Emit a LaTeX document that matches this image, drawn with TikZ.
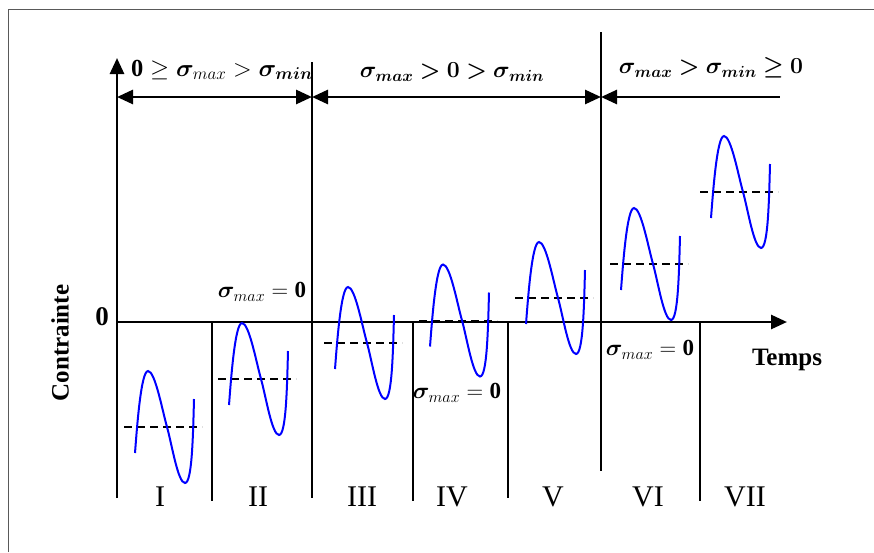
\RequirePackage{fix-cm}
\documentclass[tikz,border=0pt]{standalone}
\usepackage{amsmath}
\usepackage{bm}
\usepackage{fontspec}
\setmainfont{Liberation Serif}
\usetikzlibrary{arrows.meta}
\newcommand\wavepic[2]{%
  \begin{scope}[shift={(#1,#2)}]
    \draw[meanline] (0,0) -- (78,0);
    \draw[wavecurve] (11,26) .. controls (13,0) and (17,-56) .. (24,-56)
      .. controls (31,-56) and (38,-18) .. (43,0)
      .. controls (48,18) and (54,56) .. (61,56)
      .. controls (68,56) and (69,10) .. (70,-28);
  \end{scope}}
\begin{document}
\begin{tikzpicture}[x=1pt,y=-1pt,
  frame/.style={draw=black!65,line width=1pt},
  axis/.style={line width=2.7pt},
  sep/.style={line width=2pt},
  tipend/.style={-{Triangle[length=16pt,width=14pt]}},
  tipboth/.style={{Triangle[length=16pt,width=14pt]}-{Triangle[length=16pt,width=14pt]}},
  tipstart/.style={{Triangle[length=16pt,width=14pt]}-},
  wavecurve/.style={blue,line width=2pt},
  meanline/.style={dash pattern=on 8pt off 5pt,line width=1.8pt},
  lbl/.style={font=\fontsize{23}{27}\selectfont\bfseries,inner sep=0pt},
  txt/.style={font=\fontsize{25}{29}\selectfont\bfseries,inner sep=0pt},
  roman/.style={font=\fontsize{30}{33}\selectfont,inner sep=0pt}]
\useasboundingbox (0,0) rectangle (874,552);
% frame
\draw[frame] (8,552) -- (8,9) -- (874,9);
% axes
\coordinate (O) at (117,322);
\coordinate (ytop) at (117,58);
\coordinate (ybot) at (117,498);
\coordinate (xend) at (787,322);
\draw[axis,tipend] (ybot) -- (ytop);
\draw[axis,tipend] (O) -- (xend);
% dimension line
\coordinate (d0) at (117,97);
\coordinate (d1) at (312,97);
\coordinate (d2) at (601,97);
\coordinate (d3) at (780,97);
\draw[axis,tipboth] (d0) -- (d1);
\draw[axis,tipboth] (d1) -- (d2);
\draw[axis,tipstart] (d2) -- (d3);
% separators
\coordinate (s1a) at (312,62);  \coordinate (s1b) at (312,498);
\coordinate (s2a) at (601,32);  \coordinate (s2b) at (601,471);
\coordinate (s3a) at (212,322); \coordinate (s3b) at (212,501);
\coordinate (s4a) at (413,322); \coordinate (s4b) at (413,501);
\coordinate (s5a) at (508,322); \coordinate (s5b) at (508,498);
\coordinate (s6a) at (700,322); \coordinate (s6b) at (700,501);
\draw[sep] (s1a) -- (s1b);
\draw[sep] (s2a) -- (s2b);
\draw[sep] (s3a) -- (s3b);
\draw[sep] (s4a) -- (s4b);
\draw[sep] (s5a) -- (s5b);
\draw[sep] (s6a) -- (s6b);
% waves
\wavepic{124}{427}
\wavepic{218}{379}
\wavepic{324}{343}
\wavepic{419}{320.5}
\wavepic{515}{298}
\wavepic{610}{264}
\wavepic{700}{192}
% top labels
\node[lbl,font=\fontsize{24.5}{28}\selectfont] (t1) at (222,70) {$\mathbf{0} \geq \bm{\sigma}_{max} > \bm{\sigma}_{\bm{min}}$};
\node[lbl] (t2) at (452,72) {$\bm{\sigma_{max} > 0 > \sigma_{min}}$};
\node[lbl] (t3) at (711,68) {$\bm{\sigma_{max} > \sigma_{min} \geq 0}$};
% sigma max = 0 labels
\node[lbl] (z1) at (262,292) {$\bm{\sigma}_{max} = \mathbf{0}$};
\node[lbl] (z2) at (457,393) {$\bm{\sigma}_{max} = \mathbf{0}$};
\node[lbl] (z3) at (650,350) {$\bm{\sigma}_{max} = \mathbf{0}$};
% axis labels
\node[txt,font=\fontsize{27}{30}\selectfont\bfseries] (zero) at (102,317) {0};
\node[txt,rotate=90] (ylab) at (60,343) {Contrainte};
\node[txt] (xlab) at (787,360) {Temps};
% roman numerals
\node[roman] (r1) at (160,497) {I};
\node[roman] (r2) at (258,497) {II};
\node[roman] (r3) at (362,497) {III};
\node[roman] (r4) at (452,497) {IV};
\node[roman] (r5) at (553,497) {V};
\node[roman] (r6) at (648,497) {VI};
\node[roman] (r7) at (745,497) {VII};
\end{tikzpicture}
\end{document}
